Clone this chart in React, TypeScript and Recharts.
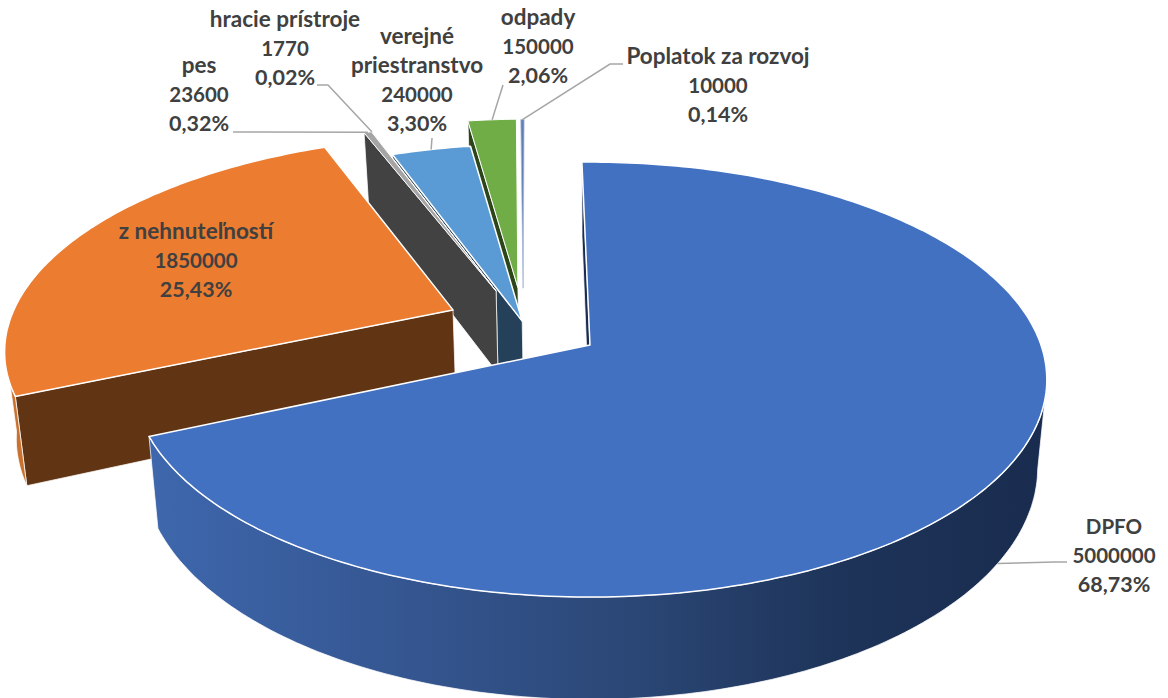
import { Pie, PieChart } from "recharts";

// listed back to front so the wedges paint over each other in the right order
const categories = [
  "Poplatok za rozvoj",
  "odpady",
  "verejné priestranstvo",
  "hracie prístroje",
  "pes",
  "z nehnuteľností",
  "DPFO",
];
const values = [10000, 150000, 240000, 1770, 23600, 1850000, 5000000];

const chartData = categories.map((name, i) => ({ name, value: values[i] }));

const WIDTH = 1168;
const HEIGHT = 698;
const TILT = 0.47;
const PERSPECTIVE = 0.159;
const WALL = 86;
const BOTTOM_SCALE = 0.98;

type SliceLook = {
  top: string;
  radial: string;
  outer: string;
  edge: string;
  edgeWidth: number;
  offset: [number, number];
};

const looks: Record<string, SliceLook> = {
  "Poplatok za rozvoj": { top: "#5f7fb5", radial: "#dfe6f2", outer: "#264478", edge: "#a9badb", edgeWidth: 0.75, offset: [-0.155, 0.28] },
  odpady: { top: "#70ad47", radial: "#2c4519", outer: "#2c4519", edge: "#ffffff", edgeWidth: 1, offset: [-0.167, 0.283] },
  "verejné priestranstvo": { top: "#5b9bd5", radial: "#254059", outer: "#254059", edge: "#ffffff", edgeWidth: 1.5, offset: [-0.153, 0.115] },
  "hracie prístroje": { top: "#ffc000", radial: "#404040", outer: "#404040", edge: "#ffffff", edgeWidth: 1, offset: [-0.217, 0.265] },
  pes: { top: "#a5a5a5", radial: "#424242", outer: "#424242", edge: "#ffffff", edgeWidth: 1, offset: [-0.217, 0.265] },
  "z nehnuteľností": { top: "#eb7c30", radial: "#613413", outer: "#c9712e", edge: "#ffffff", edgeWidth: 1.5, offset: [-0.312, 0.17] },
  DPFO: { top: "#4371c2", radial: "#1a2d50", outer: "url(#dpfoWall)", edge: "#ffffff", edgeWidth: 1.5, offset: [0, 0] },
};

type LabelPlace = {
  x: number;
  y: number;
  lines?: string[];
  nameSize?: number;
  leader?: [number, number][];
  onWall?: boolean;
};

// y is the baseline of the first line
const labelPlaces: Record<string, LabelPlace> = {
  "Poplatok za rozvoj": { x: 718, y: 64, leader: [[623, 64], [610, 64]] },
  odpady: { x: 538, y: 25, leader: [[503, 85]] },
  "verejné priestranstvo": { x: 417, y: 44, lines: ["verejné", "priestranstvo"], leader: [[432, 138]] },
  "hracie prístroje": { x: 285, y: 27, leader: [[317, 85], [328, 85]] },
  pes: { x: 199, y: 73, leader: [[233, 132]] },
  "z nehnuteľností": { x: 196, y: 239 },
  DPFO: { x: 1114, y: 534, nameSize: 20.5, leader: [[1067, 562], [1055, 562]], onWall: true },
};

function project(cx: number, cy: number, r: number, u: number, v: number, bottom = false) {
  const s = 1 / (1 + PERSPECTIVE * v);
  const x = cx + r * u * s;
  const y = cy - r * TILT * v * s;
  return bottom ? [cx + (x - cx) * BOTTOM_SCALE, y + WALL * s] : [x, y];
}

function toPath(points: number[][]) {
  return "M" + points.map((p) => `${p[0].toFixed(1)},${p[1].toFixed(1)}`).join("L") + "Z";
}

function Slice3D(props: any) {
  const { cx, cy, outerRadius, startAngle, endAngle, payload } = props;
  const look = looks[payload?.name ?? props.name];
  const [ou, ov] = look.offset;
  // clockwise degrees from twelve o'clock
  const from = 90 - Math.max(startAngle, endAngle);
  const to = 90 - Math.min(startAngle, endAngle);
  const at = (deg: number, bottom = false) => {
    const a = (deg * Math.PI) / 180;
    return project(cx, cy, outerRadius, ou + Math.sin(a), ov + Math.cos(a), bottom);
  };
  const apex = (bottom = false) => project(cx, cy, outerRadius, ou, ov, bottom);

  const arc: number[] = [];
  const steps = Math.max(2, Math.ceil(to - from));
  for (let i = 0; i <= steps; i++) {
    arc.push(from + ((to - from) * i) / steps);
  }
  const front = arc.filter((deg) => Math.cos((deg * Math.PI) / 180) < -PERSPECTIVE);

  return (
    <g>
      {/* only the leading cut face shows from this camera, the other one faces away */}
      <path
        d={toPath([apex(), at(from), at(from, true), apex(true)])}
        fill={look.radial}
        stroke="#ffffff"
        strokeWidth={0.75}
      />
      {front.length > 1 ? (
        <path
          d={toPath([...front.map((d) => at(d)), ...[...front].reverse().map((d) => at(d, true))])}
          fill={look.outer}
          stroke="#ffffff"
          strokeWidth={0.75}
        />
      ) : null}
      <path
        d={toPath([apex(), ...arc.map((d) => at(d))])}
        fill={look.top}
        stroke={look.edge}
        strokeWidth={look.edgeWidth}
        strokeLinejoin="round"
      />
    </g>
  );
}

function SliceLabel(props: any) {
  const { cx, cy, outerRadius, midAngle, percent, value, payload } = props;
  const name = payload?.name ?? props.name;
  const place = labelPlaces[name];
  const look = looks[name];
  const a = ((90 - midAngle) * Math.PI) / 180;
  const anchor = project(
    cx,
    cy,
    outerRadius,
    look.offset[0] + Math.sin(a),
    look.offset[1] + Math.cos(a),
    place.onWall,
  );
  const nameRows = place.lines ?? [name];
  const rows = [
    ...nameRows.map((text) => ({ text, size: place.nameSize ?? 22.5 })),
    { text: String(value), size: 20.5 },
    { text: `${(percent * 100).toFixed(2).replace(".", ",")}%`, size: 21.5 },
  ];

  return (
    <g>
      {place.leader ? (
        <polyline
          points={[...place.leader, anchor].map((p) => p.join(",")).join(" ")}
          fill="none"
          stroke="#a6a6a6"
          strokeWidth={1.5}
        />
      ) : null}
      <text x={place.x} y={place.y} textAnchor="middle" fill="#404040" fontFamily="Lato, sans-serif" fontWeight={700}>
        {rows.map((row, i) => (
          <tspan key={row.text} x={place.x} dy={i === 0 ? 0 : 29} fontSize={row.size}>
            {row.text}
          </tspan>
        ))}
      </text>
    </g>
  );
}

export default function App() {
  return (
    <div style={{ position: "absolute", left: 0, top: 0, width: WIDTH, height: HEIGHT, background: "#fff" }}>
      <PieChart width={WIDTH} height={HEIGHT} margin={{ top: 0, right: 0, bottom: 0, left: 0 }}>
        <defs>
          <linearGradient id="dpfoWall" x1="0" y1="0" x2="1" y2="0">
            <stop offset="0%" stopColor="#3e67ad" />
            <stop offset="30%" stopColor="#34558f" />
            <stop offset="55%" stopColor="#2a4674" />
            <stop offset="78%" stopColor="#1d3358" />
            <stop offset="100%" stopColor="#192c4f" />
          </linearGradient>
        </defs>
        <Pie
          data={chartData}
          dataKey="value"
          nameKey="name"
          cx={590}
          cy={345}
          outerRadius={451}
          startAngle={91.2}
          endAngle={451.2}
          stroke="none"
          shape={Slice3D}
          label={SliceLabel}
          labelLine={false}
          isAnimationActive={false}
        />
      </PieChart>
    </div>
  );
}
